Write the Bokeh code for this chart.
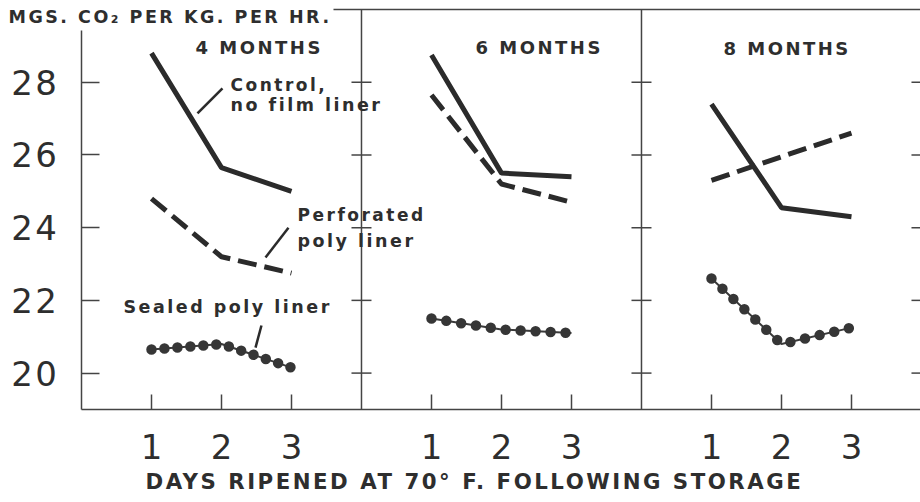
from bokeh.plotting import figure
from bokeh.models import Range1d, FixedTicker, Label
from bokeh.embed import file_html
from bokeh.resources import INLINE

# ---------------- data ----------------
days = [1, 2, 3]
day_labels = ["1", "2", "3"]
storage_labels = ["4 MONTHS", "6 MONTHS", "8 MONTHS"]
y_ticks = [20, 22, 24, 26, 28]

control_4mo = [28.8, 25.65, 25.0]
control_6mo = [28.75, 25.5, 25.4]
control_8mo = [27.4, 24.55, 24.3]

perforated_4mo = [24.8, 23.2, 22.75]
perforated_6mo = [27.65, 25.2, 24.7]
perforated_8mo = [25.3, 25.95, 26.6]

sealed_4mo = [20.65, 20.8, 20.15]
sealed_6mo = [21.5, 21.2, 21.1]
sealed_8mo = [22.6, 20.8, 21.25]

y_title = "MGS. CO\u2082 PER KG. PER HR."
x_title = "DAYS RIPENED AT 70\u00b0 F. FOLLOWING STORAGE"
series_notes = ["Control,", "no film liner", "Perforated", "poly liner", "Sealed poly liner"]

# ---------------- layout / style ----------------
PANEL = 4          # data units per storage panel
N_PANELS = 3
Y_MIN, Y_TOP = 19, 30
INK = "#2b2b2b"
RULE = "#444444"
TXT = "#2e2e2e"
BOLD_FONT = "DejaVu Sans"
NUM_FONT = "DejaVu Sans"
dot_spacing = ["0 13", "0 15", "0 15"]

p = figure(width=920, height=502, output_backend="svg", toolbar_location=None,
           x_range=Range1d(-1.157, 11.986), y_range=Range1d(16.441, 30.2475),
           min_border=0)
p.styles = {"letter-spacing": "2.5px"}
p.outline_line_color = None
p.xgrid.visible = False
p.ygrid.visible = False
p.background_fill_color = "white"
p.border_fill_color = "white"

# axes drawn at fixed data locations inside the frame
x_tick_pos = [k * PANEL + d for k in range(N_PANELS) for d in days]
xa = p.xaxis[0]
ya = p.yaxis[0]
xa.fixed_location = Y_MIN
ya.fixed_location = 0
xa.bounds = (0, N_PANELS * PANEL)
ya.bounds = (Y_MIN, 29.42)
xa.ticker = FixedTicker(ticks=x_tick_pos)
xa.major_label_overrides = {t: day_labels[i % 3] for i, t in enumerate(x_tick_pos)}
ya.ticker = FixedTicker(ticks=y_ticks)
for ax in (xa, ya):
    ax.axis_line_color = RULE
    ax.axis_line_width = 1.5
    ax.major_tick_line_color = RULE
    ax.major_tick_line_width = 1.5
    ax.major_tick_out = 0
    ax.minor_tick_line_color = None
    ax.major_label_text_font = NUM_FONT
    ax.major_label_text_font_size = "34px"
    ax.major_label_text_color = TXT
xa.major_tick_in = 15
ya.major_tick_in = 18
xa.major_label_standoff = 25
ya.major_label_standoff = 27

# panel dividers (and right edge) with cross ticks, and the top rule
div_x = [k * PANEL for k in range(1, N_PANELS + 1)]
p.segment(x0=div_x, y0=[Y_MIN] * len(div_x), x1=div_x, y1=[Y_TOP] * len(div_x),
          line_color=RULE, line_width=1.5)
for xd in div_x:
    p.dash(x=[xd] * len(y_ticks), y=y_ticks, size=20, angle=0, line_color=RULE, line_width=1.5)
p.segment(x0=[3.6], y0=[Y_TOP], x1=[N_PANELS * PANEL], y1=[Y_TOP], line_color=RULE, line_width=1.5)

# series
controls = [control_4mo, control_6mo, control_8mo]
perforated = [perforated_4mo, perforated_6mo, perforated_8mo]
sealed = [sealed_4mo, sealed_6mo, sealed_8mo]
for k in range(N_PANELS):
    xs = [k * PANEL + d for d in days]
    p.line(xs, controls[k], line_color=INK, line_width=5)
    p.line(xs, perforated[k], line_color=INK, line_width=5, line_dash="19 8")
    p.line(xs, sealed[k], line_color="#3a3a3a", line_width=2)
    p.line(xs, sealed[k], line_color="#363636", line_width=10.5, line_dash=dot_spacing[k],
           line_cap="round")

# leader lines for the series notes
p.segment(x0=[1.657, 2.629, 2.486], y0=[27.14, 23.18, 20.70],
          x1=[2.014, 2.957, 2.571], y1=[27.83, 24.0, 21.31],
          line_color=INK, line_width=2.5)


def note(x, y, text, size):
    p.add_layout(Label(x=x, y=y, text=text, text_font=BOLD_FONT, text_font_size=size,
                       text_font_style="bold", text_color=TXT,
                       text_align="left", text_baseline="alphabetic"))


# panel titles
note(1.629, 28.955, storage_labels[0], "18px")
note(5.629, 28.955, storage_labels[1], "18px")
note(9.171, 28.93, storage_labels[2], "18px")

# series notes
note(2.129, 27.91, series_notes[0], "17px")
note(2.129, 27.385, series_notes[1], "17.5px")
note(3.086, 24.335, series_notes[2], "17px")
note(3.086, 23.62, series_notes[3], "17.5px")
note(0.6, 21.805, series_notes[4], "17.5px")

# axis titles
note(-1.043, 29.78, y_title, "17.5px")
note(0.914, 17.015, x_title, "21.3px")

open("out.html", "w").write(file_html(p, INLINE))
